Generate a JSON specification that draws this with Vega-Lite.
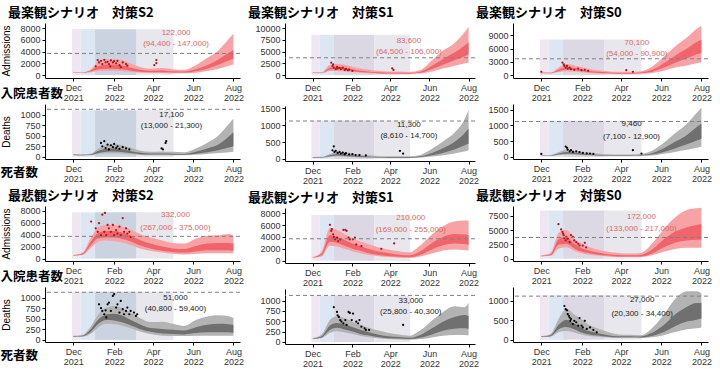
{
"$schema":"https://vega.github.io/schema/vega-lite/v6.json",
"padding":{"left":0,"top":7,"right":0,"bottom":0},
"config":{
 "font":"Liberation Sans",
 "view":{"stroke":null},
 "axis":{"grid":false,"domainColor":"#000","domainWidth":1,"tickColor":"#000","tickSize":3,"labelFontSize":9,"labelColor":"#333","titleFontSize":10,"titleFontWeight":"normal","titleColor":"#000","labelPadding":2},
 "axisX":{"labelLineHeight":10,"tickCount":10},
 "axisY":{"titlePadding":2,"minExtent":32,"maxExtent":32,"labelOverlap":false,"format":"d","tickCount":12},
 "title":{"font":"Noto Sans CJK JP","fontSize":13,"fontWeight":"bold","color":"#000","anchor":"start","frame":"group","dx":-37,"offset":3},
 "concat":{"spacing":2}
},
"datasets":{
 "periods":[
  {"s":"S2","k":"pre","start":"2021-11-29","end":"2021-12-12"},{"s":"S2","k":"early","start":"2021-12-12","end":"2022-01-03"},{"s":"S2","k":"midS2","start":"2022-01-03","end":"2022-03-07"},{"s":"S2","k":"late","start":"2022-03-07","end":"2022-05-02"},
  {"s":"S1","k":"pre","start":"2021-11-29","end":"2021-12-12"},{"s":"S1","k":"early","start":"2021-12-12","end":"2022-01-03"},{"s":"S1","k":"midS1","start":"2022-01-03","end":"2022-03-07"},{"s":"S1","k":"late","start":"2022-03-07","end":"2022-05-02"},
  {"s":"S0","k":"pre","start":"2021-11-29","end":"2021-12-12"},{"s":"S0","k":"early","start":"2021-12-12","end":"2022-01-03"},{"s":"S0","k":"midS0","start":"2022-01-03","end":"2022-03-07"},{"s":"S0","k":"late","start":"2022-03-07","end":"2022-05-02"}
 ],
 "caps":[{"m":"adm","v":3700},{"m":"death","v":1125}],
 "labs":[
  {"p":"A","d":"2022-05-06","v":7200,"t":"122,000"},{"p":"A","d":"2022-05-06","v":5250,"t":"(94,400 - 147,000)"},
  {"p":"B","d":"2022-04-30","v":7200,"t":"83,600"},{"p":"B","d":"2022-04-30","v":4900,"t":"(64,500 - 106,000)"},
  {"p":"C","d":"2022-04-25","v":7300,"t":"70,100"},{"p":"C","d":"2022-04-25","v":4850,"t":"(54,000 - 90,900)"},
  {"p":"D","d":"2022-04-29","v":1000,"t":"17,100"},{"p":"D","d":"2022-04-29","v":725,"t":"(13,000 - 21,300)"},
  {"p":"E","d":"2022-04-30","v":1020,"t":"11,300"},{"p":"E","d":"2022-04-30","v":667,"t":"(8,610 - 14,700)"},
  {"p":"F","d":"2022-04-17","v":1056,"t":"9,460"},{"p":"F","d":"2022-04-17","v":640,"t":"(7,100 - 12,900)"},
  {"p":"G","d":"2022-05-05","v":7200,"t":"332,000"},{"p":"G","d":"2022-05-05","v":5140,"t":"(267,000 - 375,000)"},
  {"p":"H","d":"2022-05-03","v":7200,"t":"210,000"},{"p":"H","d":"2022-05-03","v":5200,"t":"(169,000 - 255,000)"},
  {"p":"I","d":"2022-05-02","v":7230,"t":"172,000"},{"p":"I","d":"2022-05-02","v":5120,"t":"(133,000 - 217,000)"},
  {"p":"J","d":"2022-05-05","v":1000,"t":"51,000"},{"p":"J","d":"2022-05-05","v":725,"t":"(40,800 - 59,400)"},
  {"p":"K","d":"2022-05-03","v":1000,"t":"33,000"},{"p":"K","d":"2022-05-03","v":725,"t":"(25,800 - 40,300)"},
  {"p":"L","d":"2022-05-03","v":1017,"t":"27,000"},{"p":"L","d":"2022-05-03","v":678,"t":"(20,300 - 34,400)"}
 ],
 "bands":[
  {"p":"A","d":"2021-12-01","lo":450,"l50":480,"h50":520,"hi":560},{"p":"A","d":"2021-12-15","lo":350,"l50":380,"h50":420,"hi":460},{"p":"A","d":"2021-12-28","lo":500,"l50":650,"h50":850,"hi":1000},{"p":"A","d":"2022-01-08","lo":700,"l50":1000,"h50":1500,"hi":2300},{"p":"A","d":"2022-01-20","lo":750,"l50":1100,"h50":1800,"hi":2700},{"p":"A","d":"2022-02-01","lo":750,"l50":1100,"h50":1800,"hi":2700},{"p":"A","d":"2022-02-12","lo":700,"l50":1000,"h50":1700,"hi":2600},{"p":"A","d":"2022-02-25","lo":550,"l50":800,"h50":1300,"hi":2000},{"p":"A","d":"2022-03-12","lo":400,"l50":550,"h50":900,"hi":1400},{"p":"A","d":"2022-03-28","lo":350,"l50":500,"h50":750,"hi":1100},{"p":"A","d":"2022-04-15","lo":350,"l50":500,"h50":800,"hi":1200},{"p":"A","d":"2022-05-01","lo":300,"l50":450,"h50":650,"hi":1000},{"p":"A","d":"2022-05-18","lo":300,"l50":420,"h50":620,"hi":900},{"p":"A","d":"2022-06-05","lo":400,"l50":650,"h50":1000,"hi":1700},{"p":"A","d":"2022-06-22","lo":700,"l50":1100,"h50":1700,"hi":2900},{"p":"A","d":"2022-07-10","lo":1100,"l50":1800,"h50":2700,"hi":4300},{"p":"A","d":"2022-07-25","lo":1600,"l50":2500,"h50":3800,"hi":6200},{"p":"A","d":"2022-08-01","lo":1800,"l50":2800,"h50":4300,"hi":7100},
  {"p":"B","d":"2021-12-01","lo":450,"l50":500,"h50":560,"hi":620},{"p":"B","d":"2021-12-15","lo":400,"l50":450,"h50":520,"hi":600},{"p":"B","d":"2021-12-28","lo":900,"l50":1200,"h50":1600,"hi":2200},{"p":"B","d":"2022-01-08","lo":900,"l50":1300,"h50":1800,"hi":2400},{"p":"B","d":"2022-01-20","lo":800,"l50":1100,"h50":1600,"hi":2200},{"p":"B","d":"2022-02-01","lo":600,"l50":850,"h50":1250,"hi":1800},{"p":"B","d":"2022-02-12","lo":500,"l50":700,"h50":1000,"hi":1500},{"p":"B","d":"2022-02-25","lo":400,"l50":550,"h50":800,"hi":1200},{"p":"B","d":"2022-03-12","lo":300,"l50":420,"h50":620,"hi":950},{"p":"B","d":"2022-03-28","lo":250,"l50":350,"h50":520,"hi":800},{"p":"B","d":"2022-04-15","lo":250,"l50":350,"h50":500,"hi":800},{"p":"B","d":"2022-05-01","lo":250,"l50":330,"h50":470,"hi":700},{"p":"B","d":"2022-05-18","lo":350,"l50":500,"h50":750,"hi":1100},{"p":"B","d":"2022-06-05","lo":800,"l50":1300,"h50":2000,"hi":3200},{"p":"B","d":"2022-06-22","lo":1400,"l50":2200,"h50":3400,"hi":5200},{"p":"B","d":"2022-07-10","lo":2000,"l50":3200,"h50":4800,"hi":6800},{"p":"B","d":"2022-07-25","lo":2500,"l50":4000,"h50":6200,"hi":9000},{"p":"B","d":"2022-08-01","lo":2700,"l50":4400,"h50":7000,"hi":10300},
  {"p":"C","d":"2021-12-01","lo":400,"l50":450,"h50":520,"hi":600},{"p":"C","d":"2021-12-15","lo":400,"l50":450,"h50":520,"hi":600},{"p":"C","d":"2021-12-28","lo":700,"l50":950,"h50":1300,"hi":1800},{"p":"C","d":"2022-01-08","lo":900,"l50":1300,"h50":1800,"hi":2500},{"p":"C","d":"2022-01-20","lo":800,"l50":1100,"h50":1600,"hi":2200},{"p":"C","d":"2022-02-01","lo":600,"l50":850,"h50":1200,"hi":1700},{"p":"C","d":"2022-02-12","lo":450,"l50":650,"h50":950,"hi":1400},{"p":"C","d":"2022-02-25","lo":350,"l50":500,"h50":750,"hi":1100},{"p":"C","d":"2022-03-12","lo":300,"l50":400,"h50":600,"hi":900},{"p":"C","d":"2022-03-28","lo":250,"l50":330,"h50":500,"hi":750},{"p":"C","d":"2022-04-15","lo":250,"l50":330,"h50":480,"hi":750},{"p":"C","d":"2022-05-01","lo":300,"l50":400,"h50":600,"hi":900},{"p":"C","d":"2022-05-18","lo":500,"l50":750,"h50":1200,"hi":1900},{"p":"C","d":"2022-06-05","lo":1000,"l50":1700,"h50":2700,"hi":4200},{"p":"C","d":"2022-06-22","lo":1700,"l50":2800,"h50":4400,"hi":6500},{"p":"C","d":"2022-07-10","lo":2200,"l50":3800,"h50":6000,"hi":8500},{"p":"C","d":"2022-07-25","lo":2700,"l50":4700,"h50":7500,"hi":10500},{"p":"C","d":"2022-08-01","lo":2900,"l50":5000,"h50":8000,"hi":11200},
  {"p":"D","d":"2021-12-01","lo":40,"l50":45,"h50":55,"hi":60},{"p":"D","d":"2021-12-15","lo":35,"l50":40,"h50":50,"hi":55},{"p":"D","d":"2021-12-28","lo":40,"l50":50,"h50":65,"hi":80},{"p":"D","d":"2022-01-08","lo":60,"l50":90,"h50":140,"hi":200},{"p":"D","d":"2022-01-20","lo":80,"l50":120,"h50":190,"hi":280},{"p":"D","d":"2022-02-01","lo":80,"l50":125,"h50":200,"hi":300},{"p":"D","d":"2022-02-12","lo":75,"l50":115,"h50":185,"hi":280},{"p":"D","d":"2022-02-25","lo":60,"l50":90,"h50":140,"hi":220},{"p":"D","d":"2022-03-12","lo":45,"l50":65,"h50":100,"hi":150},{"p":"D","d":"2022-03-28","lo":40,"l50":55,"h50":80,"hi":120},{"p":"D","d":"2022-04-15","lo":40,"l50":55,"h50":80,"hi":130},{"p":"D","d":"2022-05-01","lo":40,"l50":50,"h50":75,"hi":120},{"p":"D","d":"2022-05-18","lo":40,"l50":50,"h50":70,"hi":110},{"p":"D","d":"2022-06-05","lo":50,"l50":75,"h50":120,"hi":200},{"p":"D","d":"2022-06-22","lo":70,"l50":110,"h50":200,"hi":330},{"p":"D","d":"2022-07-10","lo":90,"l50":160,"h50":300,"hi":520},{"p":"D","d":"2022-07-25","lo":110,"l50":220,"h50":480,"hi":780},{"p":"D","d":"2022-08-01","lo":120,"l50":250,"h50":580,"hi":900},
  {"p":"E","d":"2021-12-01","lo":40,"l50":45,"h50":55,"hi":60},{"p":"E","d":"2021-12-15","lo":40,"l50":45,"h50":55,"hi":65},{"p":"E","d":"2021-12-28","lo":60,"l50":80,"h50":110,"hi":150},{"p":"E","d":"2022-01-08","lo":70,"l50":100,"h50":150,"hi":210},{"p":"E","d":"2022-01-20","lo":65,"l50":90,"h50":140,"hi":200},{"p":"E","d":"2022-02-01","lo":55,"l50":75,"h50":110,"hi":160},{"p":"E","d":"2022-02-12","lo":45,"l50":60,"h50":90,"hi":130},{"p":"E","d":"2022-02-25","lo":40,"l50":50,"h50":75,"hi":110},{"p":"E","d":"2022-03-12","lo":35,"l50":45,"h50":60,"hi":90},{"p":"E","d":"2022-03-28","lo":30,"l50":40,"h50":55,"hi":80},{"p":"E","d":"2022-04-15","lo":30,"l50":40,"h50":55,"hi":80},{"p":"E","d":"2022-05-01","lo":30,"l50":40,"h50":55,"hi":80},{"p":"E","d":"2022-05-18","lo":40,"l50":55,"h50":80,"hi":120},{"p":"E","d":"2022-06-05","lo":70,"l50":110,"h50":180,"hi":300},{"p":"E","d":"2022-06-22","lo":110,"l50":180,"h50":320,"hi":520},{"p":"E","d":"2022-07-10","lo":160,"l50":280,"h50":500,"hi":780},{"p":"E","d":"2022-07-25","lo":220,"l50":400,"h50":750,"hi":1150},{"p":"E","d":"2022-08-01","lo":260,"l50":450,"h50":900,"hi":1450},
  {"p":"F","d":"2021-12-01","lo":40,"l50":45,"h50":55,"hi":60},{"p":"F","d":"2021-12-15","lo":40,"l50":45,"h50":55,"hi":65},{"p":"F","d":"2021-12-28","lo":60,"l50":80,"h50":110,"hi":160},{"p":"F","d":"2022-01-08","lo":70,"l50":100,"h50":160,"hi":230},{"p":"F","d":"2022-01-20","lo":65,"l50":90,"h50":140,"hi":200},{"p":"F","d":"2022-02-01","lo":55,"l50":70,"h50":110,"hi":160},{"p":"F","d":"2022-02-12","lo":45,"l50":60,"h50":85,"hi":130},{"p":"F","d":"2022-02-25","lo":40,"l50":50,"h50":70,"hi":100},{"p":"F","d":"2022-03-12","lo":35,"l50":45,"h50":60,"hi":85},{"p":"F","d":"2022-03-28","lo":30,"l50":40,"h50":55,"hi":75},{"p":"F","d":"2022-04-15","lo":30,"l50":40,"h50":55,"hi":80},{"p":"F","d":"2022-05-01","lo":35,"l50":45,"h50":65,"hi":100},{"p":"F","d":"2022-05-18","lo":50,"l50":75,"h50":120,"hi":200},{"p":"F","d":"2022-06-05","lo":100,"l50":160,"h50":280,"hi":450},{"p":"F","d":"2022-06-22","lo":160,"l50":270,"h50":480,"hi":750},{"p":"F","d":"2022-07-10","lo":230,"l50":400,"h50":700,"hi":1050},{"p":"F","d":"2022-07-25","lo":290,"l50":520,"h50":950,"hi":1400},{"p":"F","d":"2022-08-01","lo":320,"l50":580,"h50":1050,"hi":1570},
  {"p":"G","d":"2021-12-01","lo":450,"l50":500,"h50":550,"hi":600},{"p":"G","d":"2021-12-15","lo":600,"l50":700,"h50":850,"hi":1000},{"p":"G","d":"2021-12-28","lo":1800,"l50":2300,"h50":2900,"hi":3500},{"p":"G","d":"2022-01-08","lo":2800,"l50":3400,"h50":4300,"hi":5200},{"p":"G","d":"2022-01-20","lo":3000,"l50":3500,"h50":4600,"hi":5600},{"p":"G","d":"2022-02-01","lo":2900,"l50":3500,"h50":4600,"hi":5600},{"p":"G","d":"2022-02-12","lo":2700,"l50":3300,"h50":4400,"hi":5400},{"p":"G","d":"2022-02-25","lo":2300,"l50":2900,"h50":3900,"hi":4900},{"p":"G","d":"2022-03-12","lo":1700,"l50":2200,"h50":3100,"hi":4100},{"p":"G","d":"2022-03-28","lo":1300,"l50":1700,"h50":2500,"hi":3500},{"p":"G","d":"2022-04-15","lo":1000,"l50":1300,"h50":2000,"hi":3000},{"p":"G","d":"2022-05-01","lo":800,"l50":1100,"h50":1700,"hi":2600},{"p":"G","d":"2022-05-18","lo":700,"l50":1000,"h50":1600,"hi":2500},{"p":"G","d":"2022-06-05","lo":800,"l50":1200,"h50":2100,"hi":3300},{"p":"G","d":"2022-06-22","lo":900,"l50":1400,"h50":2500,"hi":3800},{"p":"G","d":"2022-07-10","lo":900,"l50":1400,"h50":2600,"hi":3900},{"p":"G","d":"2022-07-25","lo":900,"l50":1400,"h50":2600,"hi":4100},{"p":"G","d":"2022-08-01","lo":900,"l50":1300,"h50":2500,"hi":3900},
  {"p":"H","d":"2021-12-01","lo":450,"l50":500,"h50":550,"hi":600},{"p":"H","d":"2021-12-15","lo":700,"l50":900,"h50":1200,"hi":1500},{"p":"H","d":"2021-12-28","lo":2500,"l50":3200,"h50":4300,"hi":5500},{"p":"H","d":"2022-01-08","lo":2400,"l50":3000,"h50":4000,"hi":5200},{"p":"H","d":"2022-01-20","lo":2000,"l50":2500,"h50":3500,"hi":4500},{"p":"H","d":"2022-02-01","lo":1600,"l50":2000,"h50":2900,"hi":3800},{"p":"H","d":"2022-02-12","lo":1300,"l50":1700,"h50":2500,"hi":3300},{"p":"H","d":"2022-02-25","lo":1000,"l50":1300,"h50":2000,"hi":2800},{"p":"H","d":"2022-03-12","lo":800,"l50":1000,"h50":1600,"hi":2300},{"p":"H","d":"2022-03-28","lo":600,"l50":800,"h50":1300,"hi":1900},{"p":"H","d":"2022-04-15","lo":500,"l50":650,"h50":1000,"hi":1600},{"p":"H","d":"2022-05-01","lo":450,"l50":600,"h50":900,"hi":1400},{"p":"H","d":"2022-05-18","lo":700,"l50":1000,"h50":1600,"hi":2600},{"p":"H","d":"2022-06-05","lo":1200,"l50":1900,"h50":3000,"hi":4400},{"p":"H","d":"2022-06-22","lo":1700,"l50":2600,"h50":4000,"hi":5800},{"p":"H","d":"2022-07-10","lo":1900,"l50":2900,"h50":4500,"hi":6600},{"p":"H","d":"2022-07-25","lo":1800,"l50":2800,"h50":4400,"hi":6800},{"p":"H","d":"2022-08-01","lo":1700,"l50":2700,"h50":4300,"hi":6800},
  {"p":"I","d":"2021-12-01","lo":400,"l50":450,"h50":520,"hi":600},{"p":"I","d":"2021-12-15","lo":500,"l50":600,"h50":800,"hi":1000},{"p":"I","d":"2021-12-28","lo":1800,"l50":2500,"h50":3500,"hi":4600},{"p":"I","d":"2022-01-08","lo":2000,"l50":2600,"h50":3800,"hi":5000},{"p":"I","d":"2022-01-20","lo":1400,"l50":1800,"h50":2600,"hi":3500},{"p":"I","d":"2022-02-01","lo":900,"l50":1200,"h50":1800,"hi":2600},{"p":"I","d":"2022-02-12","lo":700,"l50":950,"h50":1400,"hi":2000},{"p":"I","d":"2022-02-25","lo":550,"l50":700,"h50":1100,"hi":1600},{"p":"I","d":"2022-03-12","lo":400,"l50":550,"h50":800,"hi":1200},{"p":"I","d":"2022-03-28","lo":300,"l50":400,"h50":650,"hi":1000},{"p":"I","d":"2022-04-15","lo":300,"l50":380,"h50":600,"hi":900},{"p":"I","d":"2022-05-01","lo":300,"l50":400,"h50":650,"hi":1000},{"p":"I","d":"2022-05-18","lo":600,"l50":900,"h50":1600,"hi":2600},{"p":"I","d":"2022-06-05","lo":1200,"l50":2000,"h50":3400,"hi":5200},{"p":"I","d":"2022-06-22","lo":1700,"l50":2800,"h50":4700,"hi":7200},{"p":"I","d":"2022-07-10","lo":1900,"l50":3200,"h50":5500,"hi":8500},{"p":"I","d":"2022-07-25","lo":1900,"l50":3300,"h50":5900,"hi":8800},{"p":"I","d":"2022-08-01","lo":1900,"l50":3300,"h50":6000,"hi":8900},
  {"p":"J","d":"2021-12-01","lo":70,"l50":75,"h50":85,"hi":95},{"p":"J","d":"2021-12-15","lo":75,"l50":85,"h50":100,"hi":120},{"p":"J","d":"2021-12-28","lo":150,"l50":200,"h50":260,"hi":330},{"p":"J","d":"2022-01-08","lo":300,"l50":380,"h50":480,"hi":600},{"p":"J","d":"2022-01-20","lo":380,"l50":470,"h50":600,"hi":760},{"p":"J","d":"2022-02-01","lo":370,"l50":460,"h50":620,"hi":800},{"p":"J","d":"2022-02-12","lo":340,"l50":420,"h50":580,"hi":760},{"p":"J","d":"2022-02-25","lo":280,"l50":350,"h50":480,"hi":650},{"p":"J","d":"2022-03-12","lo":200,"l50":260,"h50":370,"hi":520},{"p":"J","d":"2022-03-28","lo":140,"l50":190,"h50":280,"hi":420},{"p":"J","d":"2022-04-15","lo":100,"l50":150,"h50":260,"hi":430},{"p":"J","d":"2022-05-01","lo":90,"l50":140,"h50":240,"hi":380},{"p":"J","d":"2022-05-18","lo":90,"l50":130,"h50":220,"hi":330},{"p":"J","d":"2022-06-05","lo":100,"l50":160,"h50":300,"hi":470},{"p":"J","d":"2022-06-22","lo":100,"l50":180,"h50":360,"hi":550},{"p":"J","d":"2022-07-10","lo":100,"l50":180,"h50":380,"hi":580},{"p":"J","d":"2022-07-25","lo":100,"l50":180,"h50":370,"hi":560},{"p":"J","d":"2022-08-01","lo":100,"l50":170,"h50":350,"hi":520},
  {"p":"K","d":"2021-12-01","lo":70,"l50":75,"h50":85,"hi":95},{"p":"K","d":"2021-12-15","lo":90,"l50":110,"h50":140,"hi":180},{"p":"K","d":"2021-12-28","lo":220,"l50":290,"h50":400,"hi":530},{"p":"K","d":"2022-01-08","lo":260,"l50":340,"h50":460,"hi":620},{"p":"K","d":"2022-01-20","lo":230,"l50":300,"h50":420,"hi":570},{"p":"K","d":"2022-02-01","lo":190,"l50":250,"h50":360,"hi":490},{"p":"K","d":"2022-02-12","lo":150,"l50":200,"h50":300,"hi":420},{"p":"K","d":"2022-02-25","lo":120,"l50":160,"h50":240,"hi":350},{"p":"K","d":"2022-03-12","lo":90,"l50":120,"h50":180,"hi":280},{"p":"K","d":"2022-03-28","lo":70,"l50":90,"h50":140,"hi":220},{"p":"K","d":"2022-04-15","lo":60,"l50":80,"h50":120,"hi":180},{"p":"K","d":"2022-05-01","lo":55,"l50":70,"h50":100,"hi":150},{"p":"K","d":"2022-05-18","lo":70,"l50":100,"h50":170,"hi":280},{"p":"K","d":"2022-06-05","lo":110,"l50":180,"h50":330,"hi":520},{"p":"K","d":"2022-06-22","lo":150,"l50":270,"h50":490,"hi":720},{"p":"K","d":"2022-07-10","lo":170,"l50":320,"h50":600,"hi":860},{"p":"K","d":"2022-07-25","lo":170,"l50":330,"h50":650,"hi":840},{"p":"K","d":"2022-08-01","lo":160,"l50":320,"h50":630,"hi":950},
  {"p":"L","d":"2021-12-01","lo":70,"l50":75,"h50":85,"hi":95},{"p":"L","d":"2021-12-15","lo":80,"l50":95,"h50":120,"hi":150},{"p":"L","d":"2021-12-28","lo":200,"l50":280,"h50":400,"hi":560},{"p":"L","d":"2022-01-08","lo":230,"l50":330,"h50":520,"hi":800},{"p":"L","d":"2022-01-20","lo":190,"l50":270,"h50":420,"hi":650},{"p":"L","d":"2022-02-01","lo":130,"l50":180,"h50":300,"hi":520},{"p":"L","d":"2022-02-12","lo":100,"l50":140,"h50":220,"hi":380},{"p":"L","d":"2022-02-25","lo":80,"l50":110,"h50":170,"hi":290},{"p":"L","d":"2022-03-12","lo":60,"l50":80,"h50":120,"hi":200},{"p":"L","d":"2022-03-28","lo":50,"l50":65,"h50":95,"hi":140},{"p":"L","d":"2022-04-15","lo":50,"l50":65,"h50":95,"hi":130},{"p":"L","d":"2022-05-01","lo":50,"l50":60,"h50":85,"hi":120},{"p":"L","d":"2022-05-18","lo":70,"l50":100,"h50":180,"hi":300},{"p":"L","d":"2022-06-05","lo":120,"l50":200,"h50":380,"hi":650},{"p":"L","d":"2022-06-22","lo":200,"l50":350,"h50":650,"hi":1050},{"p":"L","d":"2022-07-10","lo":270,"l50":470,"h50":850,"hi":1250},{"p":"L","d":"2022-07-25","lo":300,"l50":520,"h50":950,"hi":1250},{"p":"L","d":"2022-08-01","lo":320,"l50":550,"h50":950,"hi":1200}
 ],
 "obs":[
  {"p":"A","d":"2022-01-04","v":1500},{"p":"A","d":"2022-01-07","v":2560},{"p":"A","d":"2022-01-09","v":2160},{"p":"A","d":"2022-01-12","v":2440},{"p":"A","d":"2022-01-14","v":1875},{"p":"A","d":"2022-01-17","v":2600},{"p":"A","d":"2022-01-19","v":2160},{"p":"A","d":"2022-01-22","v":2270},{"p":"A","d":"2022-01-24","v":1875},{"p":"A","d":"2022-01-26","v":1500},{"p":"A","d":"2022-01-27","v":2500},{"p":"A","d":"2022-01-30","v":2160},{"p":"A","d":"2022-02-01","v":2380},{"p":"A","d":"2022-02-04","v":2000},{"p":"A","d":"2022-02-06","v":2440},{"p":"A","d":"2022-02-09","v":1700},{"p":"A","d":"2022-02-11","v":1350},{"p":"A","d":"2022-02-14","v":2160},{"p":"A","d":"2022-02-19","v":1875},{"p":"A","d":"2022-02-21","v":1600},{"p":"A","d":"2022-04-03","v":1700},{"p":"A","d":"2022-04-06","v":2560},{"p":"A","d":"2022-04-06","v":2050},
  {"p":"D","d":"2022-01-12","v":330},{"p":"D","d":"2022-01-14","v":250},{"p":"D","d":"2022-01-17","v":370},{"p":"D","d":"2022-01-19","v":210},{"p":"D","d":"2022-01-22","v":290},{"p":"D","d":"2022-01-24","v":175},{"p":"D","d":"2022-01-27","v":275},{"p":"D","d":"2022-01-30","v":230},{"p":"D","d":"2022-02-01","v":305},{"p":"D","d":"2022-02-04","v":210},{"p":"D","d":"2022-02-06","v":250},{"p":"D","d":"2022-02-09","v":190},{"p":"D","d":"2022-02-14","v":230},{"p":"D","d":"2022-02-19","v":200},{"p":"D","d":"2022-02-24","v":175},{"p":"D","d":"2022-04-14","v":200},{"p":"D","d":"2022-04-16","v":175},{"p":"D","d":"2022-04-20","v":330},{"p":"D","d":"2022-04-21","v":370},
  {"p":"B","d":"2021-12-30","v":2650},{"p":"B","d":"2022-01-01","v":1960},{"p":"B","d":"2022-01-02","v":2300},{"p":"B","d":"2022-01-03","v":1600},{"p":"B","d":"2022-01-06","v":1260},{"p":"B","d":"2022-01-08","v":1750},{"p":"B","d":"2022-01-09","v":1400},{"p":"B","d":"2022-01-12","v":1540},{"p":"B","d":"2022-01-14","v":1260},{"p":"B","d":"2022-01-17","v":1600},{"p":"B","d":"2022-01-20","v":1120},{"p":"B","d":"2022-01-22","v":1330},{"p":"B","d":"2022-01-25","v":1050},{"p":"B","d":"2022-01-27","v":1190},{"p":"B","d":"2022-02-01","v":900},{"p":"B","d":"2022-04-04","v":1470},{"p":"B","d":"2022-04-06","v":1120},
  {"p":"E","d":"2022-01-01","v":257},{"p":"E","d":"2022-01-03","v":370},{"p":"E","d":"2022-01-04","v":210},{"p":"E","d":"2022-01-06","v":238},{"p":"E","d":"2022-01-09","v":180},{"p":"E","d":"2022-01-12","v":210},{"p":"E","d":"2022-01-14","v":162},{"p":"E","d":"2022-01-17","v":190},{"p":"E","d":"2022-01-20","v":143},{"p":"E","d":"2022-01-22","v":171},{"p":"E","d":"2022-01-27","v":133},{"p":"E","d":"2022-02-01","v":143},{"p":"E","d":"2022-02-06","v":115},{"p":"E","d":"2022-02-12","v":115},{"p":"E","d":"2022-02-22","v":105},{"p":"E","d":"2022-04-16","v":238},{"p":"E","d":"2022-04-21","v":162},
  {"p":"C","d":"2021-12-01","v":750},{"p":"C","d":"2022-01-02","v":2840},{"p":"C","d":"2022-01-04","v":2460},{"p":"C","d":"2022-01-05","v":2090},{"p":"C","d":"2022-01-07","v":1720},{"p":"C","d":"2022-01-09","v":2090},{"p":"C","d":"2022-01-10","v":1490},{"p":"C","d":"2022-01-13","v":1720},{"p":"C","d":"2022-01-15","v":1340},{"p":"C","d":"2022-01-20","v":1190},{"p":"C","d":"2022-01-26","v":1490},{"p":"C","d":"2022-01-31","v":1120},{"p":"C","d":"2022-02-05","v":1190},{"p":"C","d":"2022-02-10","v":970},{"p":"C","d":"2022-04-09","v":1120},{"p":"C","d":"2022-04-19","v":750},
  {"p":"F","d":"2021-12-01","v":96},{"p":"F","d":"2022-01-07","v":330},{"p":"F","d":"2022-01-09","v":290},{"p":"F","d":"2022-01-10","v":235},{"p":"F","d":"2022-01-13","v":180},{"p":"F","d":"2022-01-15","v":213},{"p":"F","d":"2022-01-18","v":160},{"p":"F","d":"2022-01-23","v":180},{"p":"F","d":"2022-01-28","v":150},{"p":"F","d":"2022-02-02","v":128},{"p":"F","d":"2022-02-08","v":117},{"p":"F","d":"2022-02-13","v":107},{"p":"F","d":"2022-02-18","v":96},{"p":"F","d":"2022-04-19","v":213},{"p":"F","d":"2022-05-02","v":107},
  {"p":"G","d":"2021-12-28","v":6170},{"p":"G","d":"2022-01-04","v":5030},{"p":"G","d":"2022-01-07","v":4460},{"p":"G","d":"2022-01-09","v":5890},{"p":"G","d":"2022-01-12","v":3890},{"p":"G","d":"2022-01-14","v":7310},{"p":"G","d":"2022-01-17","v":4460},{"p":"G","d":"2022-01-18","v":7600},{"p":"G","d":"2022-01-20","v":3890},{"p":"G","d":"2022-01-22","v":5600},{"p":"G","d":"2022-01-24","v":5030},{"p":"G","d":"2022-01-27","v":4460},{"p":"G","d":"2022-01-30","v":5600},{"p":"G","d":"2022-02-01","v":3890},{"p":"G","d":"2022-02-04","v":4740},{"p":"G","d":"2022-02-06","v":4170},{"p":"G","d":"2022-02-09","v":5310},{"p":"G","d":"2022-02-11","v":3890},{"p":"G","d":"2022-02-14","v":6740},{"p":"G","d":"2022-02-16","v":4460},{"p":"G","d":"2022-02-19","v":5030},{"p":"G","d":"2022-02-21","v":4170},{"p":"G","d":"2022-02-24","v":4460},{"p":"G","d":"2022-02-26","v":3600},
  {"p":"J","d":"2022-01-09","v":840},{"p":"J","d":"2022-01-12","v":750},{"p":"J","d":"2022-01-14","v":685},{"p":"J","d":"2022-01-17","v":606},{"p":"J","d":"2022-01-19","v":700},{"p":"J","d":"2022-01-20","v":530},{"p":"J","d":"2022-01-22","v":840},{"p":"J","d":"2022-01-24","v":880},{"p":"J","d":"2022-01-27","v":685},{"p":"J","d":"2022-01-30","v":1040},{"p":"J","d":"2022-02-01","v":1080},{"p":"J","d":"2022-02-04","v":765},{"p":"J","d":"2022-02-06","v":840},{"p":"J","d":"2022-02-09","v":645},{"p":"J","d":"2022-02-11","v":920},{"p":"J","d":"2022-02-14","v":725},{"p":"J","d":"2022-02-16","v":606},{"p":"J","d":"2022-02-19","v":685},{"p":"J","d":"2022-02-21","v":765},{"p":"J","d":"2022-02-24","v":606},{"p":"J","d":"2022-02-26","v":685},{"p":"J","d":"2022-03-03","v":645},{"p":"J","d":"2022-03-06","v":567},{"p":"J","d":"2022-03-08","v":606},
  {"p":"H","d":"2021-12-28","v":6060},{"p":"H","d":"2021-12-30","v":5030},{"p":"H","d":"2021-12-31","v":5310},{"p":"H","d":"2022-01-02","v":4460},{"p":"H","d":"2022-01-03","v":4000},{"p":"H","d":"2022-01-05","v":3600},{"p":"H","d":"2022-01-08","v":3890},{"p":"H","d":"2022-01-10","v":3310},{"p":"H","d":"2022-01-13","v":3600},{"p":"H","d":"2022-01-18","v":5200},{"p":"H","d":"2022-01-21","v":5200},{"p":"H","d":"2022-01-23","v":5030},{"p":"H","d":"2022-01-26","v":3890},{"p":"H","d":"2022-01-28","v":3600},{"p":"H","d":"2022-02-02","v":3600},{"p":"H","d":"2022-02-05","v":3890},{"p":"H","d":"2022-02-07","v":2740},{"p":"H","d":"2022-02-15","v":2460},{"p":"H","d":"2022-03-18","v":2000},{"p":"H","d":"2022-04-07","v":2910},
  {"p":"K","d":"2022-01-03","v":840},{"p":"K","d":"2022-01-08","v":725},{"p":"K","d":"2022-01-09","v":645},{"p":"K","d":"2022-01-11","v":605},{"p":"K","d":"2022-01-13","v":530},{"p":"K","d":"2022-01-15","v":490},{"p":"K","d":"2022-01-18","v":450},{"p":"K","d":"2022-01-21","v":530},{"p":"K","d":"2022-01-23","v":410},{"p":"K","d":"2022-01-26","v":725},{"p":"K","d":"2022-01-28","v":700},{"p":"K","d":"2022-01-31","v":530},{"p":"K","d":"2022-02-02","v":685},{"p":"K","d":"2022-02-07","v":490},{"p":"K","d":"2022-02-10","v":450},{"p":"K","d":"2022-02-12","v":530},{"p":"K","d":"2022-02-15","v":370},{"p":"K","d":"2022-02-20","v":330},{"p":"K","d":"2022-02-22","v":290},{"p":"K","d":"2022-02-27","v":290},{"p":"K","d":"2022-04-21","v":410},
  {"p":"I","d":"2021-12-27","v":6020},{"p":"I","d":"2021-12-31","v":5120},{"p":"I","d":"2022-01-02","v":4700},{"p":"I","d":"2022-01-03","v":4400},{"p":"I","d":"2022-01-04","v":4100},{"p":"I","d":"2022-01-05","v":3610},{"p":"I","d":"2022-01-07","v":3190},{"p":"I","d":"2022-01-08","v":3800},{"p":"I","d":"2022-01-10","v":3490},{"p":"I","d":"2022-01-13","v":2890},{"p":"I","d":"2022-01-15","v":4100},{"p":"I","d":"2022-01-18","v":3800},{"p":"I","d":"2022-01-20","v":3190},{"p":"I","d":"2022-01-23","v":2890},{"p":"I","d":"2022-01-26","v":2590},{"p":"I","d":"2022-01-28","v":2290},{"p":"I","d":"2022-02-02","v":2290},{"p":"I","d":"2022-02-05","v":2770},{"p":"I","d":"2022-02-07","v":1990},
  {"p":"L","d":"2022-01-05","v":870},{"p":"L","d":"2022-01-07","v":790},{"p":"L","d":"2022-01-09","v":760},{"p":"L","d":"2022-01-10","v":660},{"p":"L","d":"2022-01-12","v":620},{"p":"L","d":"2022-01-13","v":575},{"p":"L","d":"2022-01-14","v":490},{"p":"L","d":"2022-01-15","v":535},{"p":"L","d":"2022-01-18","v":405},{"p":"L","d":"2022-01-20","v":490},{"p":"L","d":"2022-01-23","v":450},{"p":"L","d":"2022-01-26","v":365},{"p":"L","d":"2022-01-28","v":560},{"p":"L","d":"2022-01-31","v":365},{"p":"L","d":"2022-02-02","v":320},{"p":"L","d":"2022-02-05","v":490},{"p":"L","d":"2022-02-08","v":280},{"p":"L","d":"2022-02-13","v":320},{"p":"L","d":"2022-02-18","v":255},{"p":"L","d":"2022-02-23","v":195}
 ]
},
"hconcat":[
 {"vconcat":[
  {"vconcat":[
  {"width":195,"height":55,"title":{"text":"最楽観シナリオ　対策S2"},"layer":[
   {"data":{"name":"periods"},"transform":[{"filter":"datum.s=='S2'"}],"mark":"rect","encoding":{
     "x":{"field":"start","type":"temporal","scale":{"type":"utc","domain":[{"year":2021,"month":10,"date":19,"utc":true},{"year":2022,"month":8,"date":11,"utc":true}]},"axis":{"tickCount":10,"values":[{"year":2021,"month":12,"date":1,"utc":true},{"year":2022,"month":2,"date":1,"utc":true},{"year":2022,"month":4,"date":1,"utc":true},{"year":2022,"month":6,"date":1,"utc":true},{"year":2022,"month":8,"date":1,"utc":true}],"labelExpr":"[utcFormat(datum.value,'%b'),utcFormat(datum.value,'%Y')]","title":"入院患者数","titleFont":"Noto Sans CJK JP","titleFontSize":12.5,"titleFontWeight":"bold","titleAngle":0,"titleAlign":"left","titleBaseline":"middle","titleX":-45,"titleY":15}},
     "x2":{"field":"end"},
     "y":{"datum":0,"type":"quantitative","scale":{"domain":[-500,8900],"nice":false,"zero":false},"axis":{"tickCount":12,"values":[0,2000,4000,6000,8000],"title":"Admissions","labelOverlap":false}},
     "y2":{"datum":7850},
     "fill":{"field":"k","type":"nominal","scale":{"domain":["pre","early","midS2","midS1","midS0","late"],"range":["#efe6f2","#dde6f3","#cbd2e0","#dbd8e4","#dcd9e5","#e7e7ed"]},"legend":null}}},
   {"data":{"name":"bands"},"transform":[{"filter":"datum.p=='A'"}],"mark":{"type":"area","color":"#f7a3a6","interpolate":"monotone"},"encoding":{"x":{"field":"d","type":"temporal"},"y":{"field":"lo","type":"quantitative"},"y2":{"field":"hi"}}},
   {"data":{"name":"bands"},"transform":[{"filter":"datum.p=='A'"}],"mark":{"type":"area","color":"#f0656b","interpolate":"monotone"},"encoding":{"x":{"field":"d","type":"temporal"},"y":{"field":"l50","type":"quantitative"},"y2":{"field":"h50"}}},
   {"data":{"name":"obs"},"transform":[{"filter":"datum.p=='A'"}],"mark":{"type":"circle","size":5,"color":"#b3121c","opacity":1},"encoding":{"x":{"field":"d","type":"temporal"},"y":{"field":"v","type":"quantitative"}}},
   {"data":{"name":"caps"},"transform":[{"filter":"datum.m=='adm'"}],"mark":{"type":"rule","color":"#808080","strokeDash":[4,3]},"encoding":{"y":{"field":"v","type":"quantitative"}}},
   {"data":{"name":"labs"},"transform":[{"filter":"datum.p=='A'"}],"mark":{"type":"text","fontSize":8,"color":"#e0675f"},"encoding":{"x":{"field":"d","type":"temporal"},"y":{"field":"v","type":"quantitative"},"text":{"field":"t"}}}
  ]},
  {"width":195,"height":55,"layer":[
   {"data":{"name":"periods"},"transform":[{"filter":"datum.s=='S2'"}],"mark":"rect","encoding":{
     "x":{"field":"start","type":"temporal","scale":{"type":"utc","domain":[{"year":2021,"month":10,"date":19,"utc":true},{"year":2022,"month":8,"date":11,"utc":true}]},"axis":{"tickCount":10,"values":[{"year":2021,"month":12,"date":1,"utc":true},{"year":2022,"month":2,"date":1,"utc":true},{"year":2022,"month":4,"date":1,"utc":true},{"year":2022,"month":6,"date":1,"utc":true},{"year":2022,"month":8,"date":1,"utc":true}],"labelExpr":"[utcFormat(datum.value,'%b'),utcFormat(datum.value,'%Y')]","title":"死者数","titleFont":"Noto Sans CJK JP","titleFontSize":12.5,"titleFontWeight":"bold","titleAngle":0,"titleAlign":"left","titleBaseline":"middle","titleX":-45,"titleY":13}},
     "x2":{"field":"end"},
     "y":{"datum":0,"type":"quantitative","scale":{"domain":[-50,1250],"nice":false,"zero":false},"axis":{"tickCount":12,"values":[0,250,500,750,1000],"title":"Deaths","labelOverlap":false}},
     "y2":{"datum":1100},
     "fill":{"field":"k","type":"nominal","scale":{"domain":["pre","early","midS2","midS1","midS0","late"],"range":["#efe6f2","#dde6f3","#cbd2e0","#dbd8e4","#dcd9e5","#e7e7ed"]},"legend":null}}},
   {"data":{"name":"bands"},"transform":[{"filter":"datum.p=='D'"}],"mark":{"type":"area","color":"#b3b3b3","interpolate":"monotone"},"encoding":{"x":{"field":"d","type":"temporal"},"y":{"field":"lo","type":"quantitative"},"y2":{"field":"hi"}}},
   {"data":{"name":"bands"},"transform":[{"filter":"datum.p=='D'"}],"mark":{"type":"area","color":"#707070","interpolate":"monotone"},"encoding":{"x":{"field":"d","type":"temporal"},"y":{"field":"l50","type":"quantitative"},"y2":{"field":"h50"}}},
   {"data":{"name":"obs"},"transform":[{"filter":"datum.p=='D'"}],"mark":{"type":"circle","size":5,"color":"#000","opacity":1},"encoding":{"x":{"field":"d","type":"temporal"},"y":{"field":"v","type":"quantitative"}}},
   {"data":{"name":"caps"},"transform":[{"filter":"datum.m=='death'"}],"mark":{"type":"rule","color":"#808080","strokeDash":[4,3]},"encoding":{"y":{"field":"v","type":"quantitative"}}},
   {"data":{"name":"labs"},"transform":[{"filter":"datum.p=='D'"}],"mark":{"type":"text","fontSize":8,"color":"#222"},"encoding":{"x":{"field":"d","type":"temporal"},"y":{"field":"v","type":"quantitative"},"text":{"field":"t"}}}
  ]}
  ],"spacing":2},
  {"vconcat":[
  {"width":195,"height":55,"title":{"text":"最悲観シナリオ　対策S2"},"layer":[
   {"data":{"name":"periods"},"transform":[{"filter":"datum.s=='S2'"}],"mark":"rect","encoding":{
     "x":{"field":"start","type":"temporal","scale":{"type":"utc","domain":[{"year":2021,"month":10,"date":19,"utc":true},{"year":2022,"month":8,"date":11,"utc":true}]},"axis":{"tickCount":10,"values":[{"year":2021,"month":12,"date":1,"utc":true},{"year":2022,"month":2,"date":1,"utc":true},{"year":2022,"month":4,"date":1,"utc":true},{"year":2022,"month":6,"date":1,"utc":true},{"year":2022,"month":8,"date":1,"utc":true}],"labelExpr":"[utcFormat(datum.value,'%b'),utcFormat(datum.value,'%Y')]","title":"入院患者数","titleFont":"Noto Sans CJK JP","titleFontSize":12.5,"titleFontWeight":"bold","titleAngle":0,"titleAlign":"left","titleBaseline":"middle","titleX":-45,"titleY":15}},
     "x2":{"field":"end"},
     "y":{"datum":0,"type":"quantitative","scale":{"domain":[-400,8750],"nice":false,"zero":false},"axis":{"tickCount":12,"values":[0,2000,4000,6000,8000],"title":"Admissions","labelOverlap":false}},
     "y2":{"datum":7700},
     "fill":{"field":"k","type":"nominal","scale":{"domain":["pre","early","midS2","midS1","midS0","late"],"range":["#efe6f2","#dde6f3","#cbd2e0","#dbd8e4","#dcd9e5","#e7e7ed"]},"legend":null}}},
   {"data":{"name":"bands"},"transform":[{"filter":"datum.p=='G'"}],"mark":{"type":"area","color":"#f7a3a6","interpolate":"monotone"},"encoding":{"x":{"field":"d","type":"temporal"},"y":{"field":"lo","type":"quantitative"},"y2":{"field":"hi"}}},
   {"data":{"name":"bands"},"transform":[{"filter":"datum.p=='G'"}],"mark":{"type":"area","color":"#f0656b","interpolate":"monotone"},"encoding":{"x":{"field":"d","type":"temporal"},"y":{"field":"l50","type":"quantitative"},"y2":{"field":"h50"}}},
   {"data":{"name":"obs"},"transform":[{"filter":"datum.p=='G'"}],"mark":{"type":"circle","size":5,"color":"#b3121c","opacity":1},"encoding":{"x":{"field":"d","type":"temporal"},"y":{"field":"v","type":"quantitative"}}},
   {"data":{"name":"caps"},"transform":[{"filter":"datum.m=='adm'"}],"mark":{"type":"rule","color":"#808080","strokeDash":[4,3]},"encoding":{"y":{"field":"v","type":"quantitative"}}},
   {"data":{"name":"labs"},"transform":[{"filter":"datum.p=='G'"}],"mark":{"type":"text","fontSize":8,"color":"#e0675f"},"encoding":{"x":{"field":"d","type":"temporal"},"y":{"field":"v","type":"quantitative"},"text":{"field":"t"}}}
  ]},
  {"width":195,"height":55,"layer":[
   {"data":{"name":"periods"},"transform":[{"filter":"datum.s=='S2'"}],"mark":"rect","encoding":{
     "x":{"field":"start","type":"temporal","scale":{"type":"utc","domain":[{"year":2021,"month":10,"date":19,"utc":true},{"year":2022,"month":8,"date":11,"utc":true}]},"axis":{"tickCount":10,"values":[{"year":2021,"month":12,"date":1,"utc":true},{"year":2022,"month":2,"date":1,"utc":true},{"year":2022,"month":4,"date":1,"utc":true},{"year":2022,"month":6,"date":1,"utc":true},{"year":2022,"month":8,"date":1,"utc":true}],"labelExpr":"[utcFormat(datum.value,'%b'),utcFormat(datum.value,'%Y')]","title":"死者数","titleFont":"Noto Sans CJK JP","titleFontSize":12.5,"titleFontWeight":"bold","titleAngle":0,"titleAlign":"left","titleBaseline":"middle","titleX":-45,"titleY":13}},
     "x2":{"field":"end"},
     "y":{"datum":0,"type":"quantitative","scale":{"domain":[-50,1250],"nice":false,"zero":false},"axis":{"tickCount":12,"values":[0,250,500,750,1000],"title":"Deaths","labelOverlap":false}},
     "y2":{"datum":1140},
     "fill":{"field":"k","type":"nominal","scale":{"domain":["pre","early","midS2","midS1","midS0","late"],"range":["#efe6f2","#dde6f3","#cbd2e0","#dbd8e4","#dcd9e5","#e7e7ed"]},"legend":null}}},
   {"data":{"name":"bands"},"transform":[{"filter":"datum.p=='J'"}],"mark":{"type":"area","color":"#b3b3b3","interpolate":"monotone"},"encoding":{"x":{"field":"d","type":"temporal"},"y":{"field":"lo","type":"quantitative"},"y2":{"field":"hi"}}},
   {"data":{"name":"bands"},"transform":[{"filter":"datum.p=='J'"}],"mark":{"type":"area","color":"#707070","interpolate":"monotone"},"encoding":{"x":{"field":"d","type":"temporal"},"y":{"field":"l50","type":"quantitative"},"y2":{"field":"h50"}}},
   {"data":{"name":"obs"},"transform":[{"filter":"datum.p=='J'"}],"mark":{"type":"circle","size":5,"color":"#000","opacity":1},"encoding":{"x":{"field":"d","type":"temporal"},"y":{"field":"v","type":"quantitative"}}},
   {"data":{"name":"caps"},"transform":[{"filter":"datum.m=='death'"}],"mark":{"type":"rule","color":"#808080","strokeDash":[4,3]},"encoding":{"y":{"field":"v","type":"quantitative"}}},
   {"data":{"name":"labs"},"transform":[{"filter":"datum.p=='J'"}],"mark":{"type":"text","fontSize":8,"color":"#222"},"encoding":{"x":{"field":"d","type":"temporal"},"y":{"field":"v","type":"quantitative"},"text":{"field":"t"}}}
  ]}
  ],"spacing":2}
 ],"spacing":7},
 {"hconcat":[
 {"vconcat":[
  {"vconcat":[
  {"width":190,"height":55,"title":{"text":"最楽観シナリオ　対策S1"},"layer":[
   {"data":{"name":"periods"},"transform":[{"filter":"datum.s=='S1'"}],"mark":"rect","encoding":{
     "x":{"field":"start","type":"temporal","scale":{"type":"utc","domain":[{"year":2021,"month":10,"date":19,"utc":true},{"year":2022,"month":8,"date":11,"utc":true}]},"axis":{"tickCount":10,"values":[{"year":2021,"month":12,"date":1,"utc":true},{"year":2022,"month":2,"date":1,"utc":true},{"year":2022,"month":4,"date":1,"utc":true},{"year":2022,"month":6,"date":1,"utc":true},{"year":2022,"month":8,"date":1,"utc":true}],"labelExpr":"[utcFormat(datum.value,'%b'),utcFormat(datum.value,'%Y')]","title":null}},
     "x2":{"field":"end"},
     "y":{"datum":0,"type":"quantitative","scale":{"domain":[-600,11100],"nice":false,"zero":false},"axis":{"tickCount":12,"values":[0,2500,5000,7500,10000],"title":null,"labelOverlap":false}},
     "y2":{"datum":8600},
     "fill":{"field":"k","type":"nominal","scale":{"domain":["pre","early","midS2","midS1","midS0","late"],"range":["#efe6f2","#dde6f3","#cbd2e0","#dbd8e4","#dcd9e5","#e7e7ed"]},"legend":null}}},
   {"data":{"name":"bands"},"transform":[{"filter":"datum.p=='B'"}],"mark":{"type":"area","color":"#f7a3a6","interpolate":"monotone"},"encoding":{"x":{"field":"d","type":"temporal"},"y":{"field":"lo","type":"quantitative"},"y2":{"field":"hi"}}},
   {"data":{"name":"bands"},"transform":[{"filter":"datum.p=='B'"}],"mark":{"type":"area","color":"#f0656b","interpolate":"monotone"},"encoding":{"x":{"field":"d","type":"temporal"},"y":{"field":"l50","type":"quantitative"},"y2":{"field":"h50"}}},
   {"data":{"name":"obs"},"transform":[{"filter":"datum.p=='B'"}],"mark":{"type":"circle","size":5,"color":"#b3121c","opacity":1},"encoding":{"x":{"field":"d","type":"temporal"},"y":{"field":"v","type":"quantitative"}}},
   {"data":{"name":"caps"},"transform":[{"filter":"datum.m=='adm'"}],"mark":{"type":"rule","color":"#808080","strokeDash":[4,3]},"encoding":{"y":{"field":"v","type":"quantitative"}}},
   {"data":{"name":"labs"},"transform":[{"filter":"datum.p=='B'"}],"mark":{"type":"text","fontSize":8,"color":"#e0675f"},"encoding":{"x":{"field":"d","type":"temporal"},"y":{"field":"v","type":"quantitative"},"text":{"field":"t"}}}
  ]},
  {"width":190,"height":55,"layer":[
   {"data":{"name":"periods"},"transform":[{"filter":"datum.s=='S1'"}],"mark":"rect","encoding":{
     "x":{"field":"start","type":"temporal","scale":{"type":"utc","domain":[{"year":2021,"month":10,"date":19,"utc":true},{"year":2022,"month":8,"date":11,"utc":true}]},"axis":{"tickCount":10,"values":[{"year":2021,"month":12,"date":1,"utc":true},{"year":2022,"month":2,"date":1,"utc":true},{"year":2022,"month":4,"date":1,"utc":true},{"year":2022,"month":6,"date":1,"utc":true},{"year":2022,"month":8,"date":1,"utc":true}],"labelExpr":"[utcFormat(datum.value,'%b'),utcFormat(datum.value,'%Y')]","title":null}},
     "x2":{"field":"end"},
     "y":{"datum":0,"type":"quantitative","scale":{"domain":[-60,1570],"nice":false,"zero":false},"axis":{"tickCount":12,"values":[0,500,1000,1500],"title":null,"labelOverlap":false}},
     "y2":{"datum":1140},
     "fill":{"field":"k","type":"nominal","scale":{"domain":["pre","early","midS2","midS1","midS0","late"],"range":["#efe6f2","#dde6f3","#cbd2e0","#dbd8e4","#dcd9e5","#e7e7ed"]},"legend":null}}},
   {"data":{"name":"bands"},"transform":[{"filter":"datum.p=='E'"}],"mark":{"type":"area","color":"#b3b3b3","interpolate":"monotone"},"encoding":{"x":{"field":"d","type":"temporal"},"y":{"field":"lo","type":"quantitative"},"y2":{"field":"hi"}}},
   {"data":{"name":"bands"},"transform":[{"filter":"datum.p=='E'"}],"mark":{"type":"area","color":"#707070","interpolate":"monotone"},"encoding":{"x":{"field":"d","type":"temporal"},"y":{"field":"l50","type":"quantitative"},"y2":{"field":"h50"}}},
   {"data":{"name":"obs"},"transform":[{"filter":"datum.p=='E'"}],"mark":{"type":"circle","size":5,"color":"#000","opacity":1},"encoding":{"x":{"field":"d","type":"temporal"},"y":{"field":"v","type":"quantitative"}}},
   {"data":{"name":"caps"},"transform":[{"filter":"datum.m=='death'"}],"mark":{"type":"rule","color":"#808080","strokeDash":[4,3]},"encoding":{"y":{"field":"v","type":"quantitative"}}},
   {"data":{"name":"labs"},"transform":[{"filter":"datum.p=='E'"}],"mark":{"type":"text","fontSize":8,"color":"#222"},"encoding":{"x":{"field":"d","type":"temporal"},"y":{"field":"v","type":"quantitative"},"text":{"field":"t"}}}
  ]}
  ],"spacing":2},
  {"vconcat":[
  {"width":190,"height":55,"title":{"text":"最悲観シナリオ　対策S1"},"layer":[
   {"data":{"name":"periods"},"transform":[{"filter":"datum.s=='S1'"}],"mark":"rect","encoding":{
     "x":{"field":"start","type":"temporal","scale":{"type":"utc","domain":[{"year":2021,"month":10,"date":19,"utc":true},{"year":2022,"month":8,"date":11,"utc":true}]},"axis":{"tickCount":10,"values":[{"year":2021,"month":12,"date":1,"utc":true},{"year":2022,"month":2,"date":1,"utc":true},{"year":2022,"month":4,"date":1,"utc":true},{"year":2022,"month":6,"date":1,"utc":true},{"year":2022,"month":8,"date":1,"utc":true}],"labelExpr":"[utcFormat(datum.value,'%b'),utcFormat(datum.value,'%Y')]","title":null}},
     "x2":{"field":"end"},
     "y":{"datum":0,"type":"quantitative","scale":{"domain":[-400,8900],"nice":false,"zero":false},"axis":{"tickCount":12,"values":[0,2000,4000,6000,8000],"title":null,"labelOverlap":false}},
     "y2":{"datum":7700},
     "fill":{"field":"k","type":"nominal","scale":{"domain":["pre","early","midS2","midS1","midS0","late"],"range":["#efe6f2","#dde6f3","#cbd2e0","#dbd8e4","#dcd9e5","#e7e7ed"]},"legend":null}}},
   {"data":{"name":"bands"},"transform":[{"filter":"datum.p=='H'"}],"mark":{"type":"area","color":"#f7a3a6","interpolate":"monotone"},"encoding":{"x":{"field":"d","type":"temporal"},"y":{"field":"lo","type":"quantitative"},"y2":{"field":"hi"}}},
   {"data":{"name":"bands"},"transform":[{"filter":"datum.p=='H'"}],"mark":{"type":"area","color":"#f0656b","interpolate":"monotone"},"encoding":{"x":{"field":"d","type":"temporal"},"y":{"field":"l50","type":"quantitative"},"y2":{"field":"h50"}}},
   {"data":{"name":"obs"},"transform":[{"filter":"datum.p=='H'"}],"mark":{"type":"circle","size":5,"color":"#b3121c","opacity":1},"encoding":{"x":{"field":"d","type":"temporal"},"y":{"field":"v","type":"quantitative"}}},
   {"data":{"name":"caps"},"transform":[{"filter":"datum.m=='adm'"}],"mark":{"type":"rule","color":"#808080","strokeDash":[4,3]},"encoding":{"y":{"field":"v","type":"quantitative"}}},
   {"data":{"name":"labs"},"transform":[{"filter":"datum.p=='H'"}],"mark":{"type":"text","fontSize":8,"color":"#e0675f"},"encoding":{"x":{"field":"d","type":"temporal"},"y":{"field":"v","type":"quantitative"},"text":{"field":"t"}}}
  ]},
  {"width":190,"height":55,"layer":[
   {"data":{"name":"periods"},"transform":[{"filter":"datum.s=='S1'"}],"mark":"rect","encoding":{
     "x":{"field":"start","type":"temporal","scale":{"type":"utc","domain":[{"year":2021,"month":10,"date":19,"utc":true},{"year":2022,"month":8,"date":11,"utc":true}]},"axis":{"tickCount":10,"values":[{"year":2021,"month":12,"date":1,"utc":true},{"year":2022,"month":2,"date":1,"utc":true},{"year":2022,"month":4,"date":1,"utc":true},{"year":2022,"month":6,"date":1,"utc":true},{"year":2022,"month":8,"date":1,"utc":true}],"labelExpr":"[utcFormat(datum.value,'%b'),utcFormat(datum.value,'%Y')]","title":null}},
     "x2":{"field":"end"},
     "y":{"datum":0,"type":"quantitative","scale":{"domain":[-50,1280],"nice":false,"zero":false},"axis":{"tickCount":12,"values":[0,250,500,750,1000],"title":null,"labelOverlap":false}},
     "y2":{"datum":1120},
     "fill":{"field":"k","type":"nominal","scale":{"domain":["pre","early","midS2","midS1","midS0","late"],"range":["#efe6f2","#dde6f3","#cbd2e0","#dbd8e4","#dcd9e5","#e7e7ed"]},"legend":null}}},
   {"data":{"name":"bands"},"transform":[{"filter":"datum.p=='K'"}],"mark":{"type":"area","color":"#b3b3b3","interpolate":"monotone"},"encoding":{"x":{"field":"d","type":"temporal"},"y":{"field":"lo","type":"quantitative"},"y2":{"field":"hi"}}},
   {"data":{"name":"bands"},"transform":[{"filter":"datum.p=='K'"}],"mark":{"type":"area","color":"#707070","interpolate":"monotone"},"encoding":{"x":{"field":"d","type":"temporal"},"y":{"field":"l50","type":"quantitative"},"y2":{"field":"h50"}}},
   {"data":{"name":"obs"},"transform":[{"filter":"datum.p=='K'"}],"mark":{"type":"circle","size":5,"color":"#000","opacity":1},"encoding":{"x":{"field":"d","type":"temporal"},"y":{"field":"v","type":"quantitative"}}},
   {"data":{"name":"caps"},"transform":[{"filter":"datum.m=='death'"}],"mark":{"type":"rule","color":"#808080","strokeDash":[4,3]},"encoding":{"y":{"field":"v","type":"quantitative"}}},
   {"data":{"name":"labs"},"transform":[{"filter":"datum.p=='K'"}],"mark":{"type":"text","fontSize":8,"color":"#222"},"encoding":{"x":{"field":"d","type":"temporal"},"y":{"field":"v","type":"quantitative"},"text":{"field":"t"}}}
  ]}
  ],"spacing":2}
 ],"spacing":7},
 {"vconcat":[
  {"vconcat":[
  {"width":195,"height":55,"title":{"text":"最楽観シナリオ　対策S0"},"layer":[
   {"data":{"name":"periods"},"transform":[{"filter":"datum.s=='S0'"}],"mark":"rect","encoding":{
     "x":{"field":"start","type":"temporal","scale":{"type":"utc","domain":[{"year":2021,"month":10,"date":19,"utc":true},{"year":2022,"month":8,"date":11,"utc":true}]},"axis":{"tickCount":10,"values":[{"year":2021,"month":12,"date":1,"utc":true},{"year":2022,"month":2,"date":1,"utc":true},{"year":2022,"month":4,"date":1,"utc":true},{"year":2022,"month":6,"date":1,"utc":true},{"year":2022,"month":8,"date":1,"utc":true}],"labelExpr":"[utcFormat(datum.value,'%b'),utcFormat(datum.value,'%Y')]","title":null}},
     "x2":{"field":"end"},
     "y":{"datum":0,"type":"quantitative","scale":{"domain":[-650,11800],"nice":false,"zero":false},"axis":{"tickCount":12,"values":[0,3000,6000,9000],"title":null,"minExtent":19,"maxExtent":19,"labelOverlap":false}},
     "y2":{"datum":8060},
     "fill":{"field":"k","type":"nominal","scale":{"domain":["pre","early","midS2","midS1","midS0","late"],"range":["#efe6f2","#dde6f3","#cbd2e0","#dbd8e4","#dcd9e5","#e7e7ed"]},"legend":null}}},
   {"data":{"name":"bands"},"transform":[{"filter":"datum.p=='C'"}],"mark":{"type":"area","color":"#f7a3a6","interpolate":"monotone"},"encoding":{"x":{"field":"d","type":"temporal"},"y":{"field":"lo","type":"quantitative"},"y2":{"field":"hi"}}},
   {"data":{"name":"bands"},"transform":[{"filter":"datum.p=='C'"}],"mark":{"type":"area","color":"#f0656b","interpolate":"monotone"},"encoding":{"x":{"field":"d","type":"temporal"},"y":{"field":"l50","type":"quantitative"},"y2":{"field":"h50"}}},
   {"data":{"name":"obs"},"transform":[{"filter":"datum.p=='C'"}],"mark":{"type":"circle","size":5,"color":"#b3121c","opacity":1},"encoding":{"x":{"field":"d","type":"temporal"},"y":{"field":"v","type":"quantitative"}}},
   {"data":{"name":"caps"},"transform":[{"filter":"datum.m=='adm'"}],"mark":{"type":"rule","color":"#808080","strokeDash":[4,3]},"encoding":{"y":{"field":"v","type":"quantitative"}}},
   {"data":{"name":"labs"},"transform":[{"filter":"datum.p=='C'"}],"mark":{"type":"text","fontSize":8,"color":"#e0675f"},"encoding":{"x":{"field":"d","type":"temporal"},"y":{"field":"v","type":"quantitative"},"text":{"field":"t"}}}
  ]},
  {"width":195,"height":55,"layer":[
   {"data":{"name":"periods"},"transform":[{"filter":"datum.s=='S0'"}],"mark":"rect","encoding":{
     "x":{"field":"start","type":"temporal","scale":{"type":"utc","domain":[{"year":2021,"month":10,"date":19,"utc":true},{"year":2022,"month":8,"date":11,"utc":true}]},"axis":{"tickCount":10,"values":[{"year":2021,"month":12,"date":1,"utc":true},{"year":2022,"month":2,"date":1,"utc":true},{"year":2022,"month":4,"date":1,"utc":true},{"year":2022,"month":6,"date":1,"utc":true},{"year":2022,"month":8,"date":1,"utc":true}],"labelExpr":"[utcFormat(datum.value,'%b'),utcFormat(datum.value,'%Y')]","title":null}},
     "x2":{"field":"end"},
     "y":{"datum":0,"type":"quantitative","scale":{"domain":[-65,1680],"nice":false,"zero":false},"axis":{"tickCount":12,"values":[0,500,1000,1500],"title":null,"minExtent":19,"maxExtent":19,"labelOverlap":false}},
     "y2":{"datum":1150},
     "fill":{"field":"k","type":"nominal","scale":{"domain":["pre","early","midS2","midS1","midS0","late"],"range":["#efe6f2","#dde6f3","#cbd2e0","#dbd8e4","#dcd9e5","#e7e7ed"]},"legend":null}}},
   {"data":{"name":"bands"},"transform":[{"filter":"datum.p=='F'"}],"mark":{"type":"area","color":"#b3b3b3","interpolate":"monotone"},"encoding":{"x":{"field":"d","type":"temporal"},"y":{"field":"lo","type":"quantitative"},"y2":{"field":"hi"}}},
   {"data":{"name":"bands"},"transform":[{"filter":"datum.p=='F'"}],"mark":{"type":"area","color":"#707070","interpolate":"monotone"},"encoding":{"x":{"field":"d","type":"temporal"},"y":{"field":"l50","type":"quantitative"},"y2":{"field":"h50"}}},
   {"data":{"name":"obs"},"transform":[{"filter":"datum.p=='F'"}],"mark":{"type":"circle","size":5,"color":"#000","opacity":1},"encoding":{"x":{"field":"d","type":"temporal"},"y":{"field":"v","type":"quantitative"}}},
   {"data":{"name":"caps"},"transform":[{"filter":"datum.m=='death'"}],"mark":{"type":"rule","color":"#808080","strokeDash":[4,3]},"encoding":{"y":{"field":"v","type":"quantitative"}}},
   {"data":{"name":"labs"},"transform":[{"filter":"datum.p=='F'"}],"mark":{"type":"text","fontSize":8,"color":"#222"},"encoding":{"x":{"field":"d","type":"temporal"},"y":{"field":"v","type":"quantitative"},"text":{"field":"t"}}}
  ]}
  ],"spacing":2},
  {"vconcat":[
  {"width":195,"height":55,"title":{"text":"最悲観シナリオ　対策S0"},"layer":[
   {"data":{"name":"periods"},"transform":[{"filter":"datum.s=='S0'"}],"mark":"rect","encoding":{
     "x":{"field":"start","type":"temporal","scale":{"type":"utc","domain":[{"year":2021,"month":10,"date":19,"utc":true},{"year":2022,"month":8,"date":11,"utc":true}]},"axis":{"tickCount":10,"values":[{"year":2021,"month":12,"date":1,"utc":true},{"year":2022,"month":2,"date":1,"utc":true},{"year":2022,"month":4,"date":1,"utc":true},{"year":2022,"month":6,"date":1,"utc":true},{"year":2022,"month":8,"date":1,"utc":true}],"labelExpr":"[utcFormat(datum.value,'%b'),utcFormat(datum.value,'%Y')]","title":null}},
     "x2":{"field":"end"},
     "y":{"datum":0,"type":"quantitative","scale":{"domain":[-400,9200],"nice":false,"zero":false},"axis":{"tickCount":12,"values":[0,2500,5000,7500],"title":null,"minExtent":19,"maxExtent":19,"labelOverlap":false}},
     "y2":{"datum":8400},
     "fill":{"field":"k","type":"nominal","scale":{"domain":["pre","early","midS2","midS1","midS0","late"],"range":["#efe6f2","#dde6f3","#cbd2e0","#dbd8e4","#dcd9e5","#e7e7ed"]},"legend":null}}},
   {"data":{"name":"bands"},"transform":[{"filter":"datum.p=='I'"}],"mark":{"type":"area","color":"#f7a3a6","interpolate":"monotone"},"encoding":{"x":{"field":"d","type":"temporal"},"y":{"field":"lo","type":"quantitative"},"y2":{"field":"hi"}}},
   {"data":{"name":"bands"},"transform":[{"filter":"datum.p=='I'"}],"mark":{"type":"area","color":"#f0656b","interpolate":"monotone"},"encoding":{"x":{"field":"d","type":"temporal"},"y":{"field":"l50","type":"quantitative"},"y2":{"field":"h50"}}},
   {"data":{"name":"obs"},"transform":[{"filter":"datum.p=='I'"}],"mark":{"type":"circle","size":5,"color":"#b3121c","opacity":1},"encoding":{"x":{"field":"d","type":"temporal"},"y":{"field":"v","type":"quantitative"}}},
   {"data":{"name":"caps"},"transform":[{"filter":"datum.m=='adm'"}],"mark":{"type":"rule","color":"#808080","strokeDash":[4,3]},"encoding":{"y":{"field":"v","type":"quantitative"}}},
   {"data":{"name":"labs"},"transform":[{"filter":"datum.p=='I'"}],"mark":{"type":"text","fontSize":8,"color":"#e0675f"},"encoding":{"x":{"field":"d","type":"temporal"},"y":{"field":"v","type":"quantitative"},"text":{"field":"t"}}}
  ]},
  {"width":195,"height":55,"layer":[
   {"data":{"name":"periods"},"transform":[{"filter":"datum.s=='S0'"}],"mark":"rect","encoding":{
     "x":{"field":"start","type":"temporal","scale":{"type":"utc","domain":[{"year":2021,"month":10,"date":19,"utc":true},{"year":2022,"month":8,"date":11,"utc":true}]},"axis":{"tickCount":10,"values":[{"year":2021,"month":12,"date":1,"utc":true},{"year":2022,"month":2,"date":1,"utc":true},{"year":2022,"month":4,"date":1,"utc":true},{"year":2022,"month":6,"date":1,"utc":true},{"year":2022,"month":8,"date":1,"utc":true}],"labelExpr":"[utcFormat(datum.value,'%b'),utcFormat(datum.value,'%Y')]","title":null}},
     "x2":{"field":"end"},
     "y":{"datum":0,"type":"quantitative","scale":{"domain":[-55,1360],"nice":false,"zero":false},"axis":{"tickCount":12,"values":[0,500,1000],"title":null,"minExtent":19,"maxExtent":19,"labelOverlap":false}},
     "y2":{"datum":1150},
     "fill":{"field":"k","type":"nominal","scale":{"domain":["pre","early","midS2","midS1","midS0","late"],"range":["#efe6f2","#dde6f3","#cbd2e0","#dbd8e4","#dcd9e5","#e7e7ed"]},"legend":null}}},
   {"data":{"name":"bands"},"transform":[{"filter":"datum.p=='L'"}],"mark":{"type":"area","color":"#b3b3b3","interpolate":"monotone"},"encoding":{"x":{"field":"d","type":"temporal"},"y":{"field":"lo","type":"quantitative"},"y2":{"field":"hi"}}},
   {"data":{"name":"bands"},"transform":[{"filter":"datum.p=='L'"}],"mark":{"type":"area","color":"#707070","interpolate":"monotone"},"encoding":{"x":{"field":"d","type":"temporal"},"y":{"field":"l50","type":"quantitative"},"y2":{"field":"h50"}}},
   {"data":{"name":"obs"},"transform":[{"filter":"datum.p=='L'"}],"mark":{"type":"circle","size":5,"color":"#000","opacity":1},"encoding":{"x":{"field":"d","type":"temporal"},"y":{"field":"v","type":"quantitative"}}},
   {"data":{"name":"caps"},"transform":[{"filter":"datum.m=='death'"}],"mark":{"type":"rule","color":"#808080","strokeDash":[4,3]},"encoding":{"y":{"field":"v","type":"quantitative"}}},
   {"data":{"name":"labs"},"transform":[{"filter":"datum.p=='L'"}],"mark":{"type":"text","fontSize":8,"color":"#222"},"encoding":{"x":{"field":"d","type":"temporal"},"y":{"field":"v","type":"quantitative"},"text":{"field":"t"}}}
  ]}
  ],"spacing":2}
 ],"spacing":7}
 ],"spacing":-3}
],
"spacing":4
}
